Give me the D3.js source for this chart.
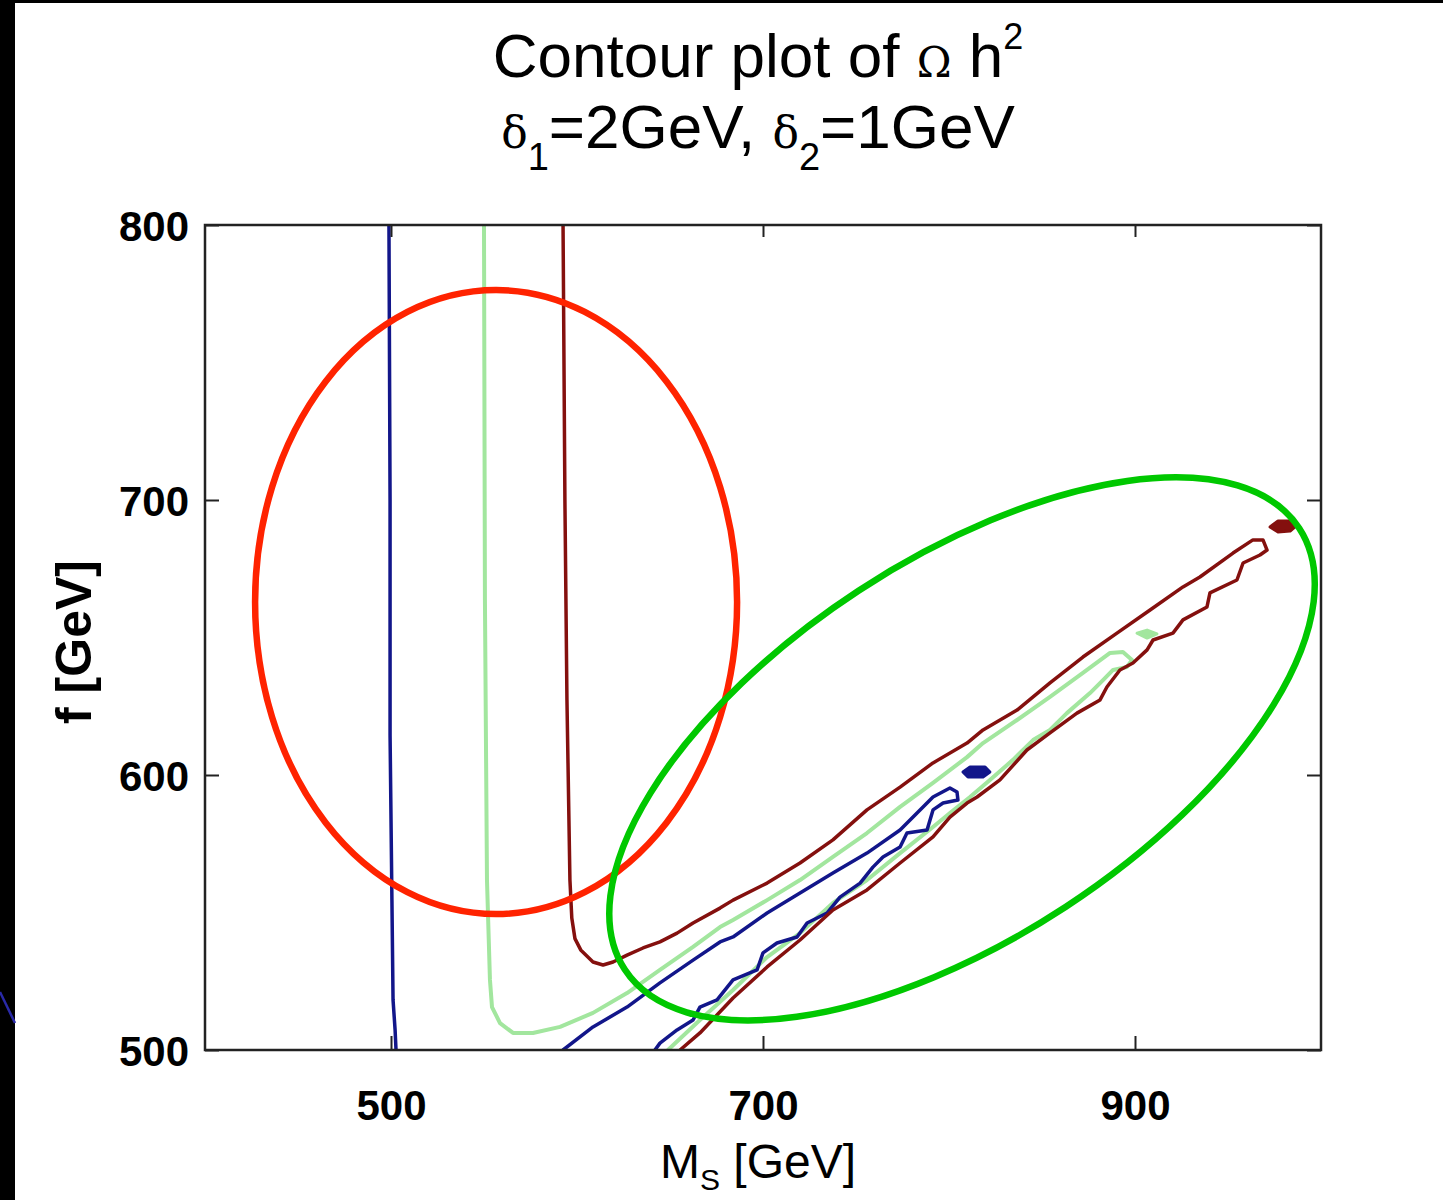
<!DOCTYPE html>
<html>
<head>
<meta charset="utf-8">
<script src="https://cdn.jsdelivr.net/npm/d3@7/dist/d3.min.js"></script>
<style>
  html, body { margin: 0; padding: 0; background: #fff; }
  svg { display: block; }
</style>
</head>
<body>
<svg id="chart" width="1443" height="1200"></svg>
<script>
// Axis ranges and tick labels
const msDomain = [400, 1000];
const fDomain = [500, 800];
const msTicks = [500, 700, 900];
const fTicks = [500, 600, 700, 800];

// Contour lines of Omega h^2, points as [M_S (GeV), f (GeV)]
const blueVertical = [
  [498.9, 800], [499.5, 700], [499.5, 614.5], [500.5, 554.5],
  [501.1, 518.2], [502.2, 507.3], [502.7, 500]
];
const blueBand = [
  [592.5, 500], [608.6, 508.4], [626.9, 515.6], [644.6, 524.4], [662.4, 532.7],
  [676.9, 539.3], [683.9, 541.1], [702.2, 549.8], [719.9, 557.1], [737.6, 564.4],
  [755.9, 571.6], [773.7, 580.0], [791.4, 592.0], [800.5, 595.3], [804.3, 593.8],
  [804.8, 590.9], [796.8, 589.8], [791.4, 587.3], [788.2, 580.0], [777.4, 578.9],
  [773.7, 573.8], [764.5, 570.2], [759.1, 566.5], [752.2, 560.7], [741.4, 555.6],
  [734.4, 549.8], [723.7, 546.2], [718.3, 541.1], [707.5, 538.9], [700.0, 535.3],
  [696.8, 529.1], [683.9, 525.5], [675.3, 518.2], [666.1, 515.6], [662.4, 510.9],
  [653.8, 507.3], [644.6, 502.5], [641.9, 500]
];
const blueIsland = [
  [807.5, 601.1], [811.3, 602.9], [819.4, 602.9], [822.0, 601.1],
  [818.3, 599.3], [810.2, 599.3]
];
const greenCurve = [
  [550.0, 800], [550.5, 663.6], [551.6, 561.8], [553.2, 525.5], [554.3, 515.6],
  [558.6, 509.8], [565.6, 506.2], [576.3, 506.2], [590.9, 508.4], [608.6, 513.5],
  [626.9, 520.7], [644.6, 529.1], [662.4, 537.5], [676.9, 544.7], [683.9, 547.3],
  [702.2, 554.5], [719.9, 561.8], [737.6, 570.2], [755.9, 578.9], [773.7, 588.4],
  [791.4, 597.1], [809.7, 606.5], [818.3, 611.6], [836.6, 620.0], [854.3, 628.4],
  [872.0, 637.1], [886.6, 644.4], [893.5, 644.7], [898.4, 641.8], [895.7, 639.3],
  [888.2, 638.2], [882.8, 634.5], [875.8, 629.8], [863.4, 622.5], [854.3, 616.4],
  [845.2, 612.7], [834.4, 605.5], [822.0, 598.2], [811.3, 592.0], [800.5, 586.2],
  [791.4, 581.1], [773.7, 571.6], [755.9, 561.8], [737.6, 553.5], [719.9, 542.5],
  [702.2, 533.8], [683.9, 521.8], [666.1, 510.9], [648.9, 500]
];
const greenIsland = [
  [901.1, 651.6], [906.5, 652.7], [911.8, 651.3], [906.5, 649.8]
];
const redCurve = [
  [592.5, 800], [593.5, 700], [594.6, 627.3], [596.2, 561.8], [597.2, 548.0],
  [598.9, 540.5], [602.0, 536.4], [608.6, 532.0], [614.0, 530.9], [619.4, 532.0],
  [626.9, 534.5], [635.5, 537.1], [644.6, 539.3], [653.8, 542.5], [662.4, 546.2],
  [676.9, 551.6], [683.9, 554.5], [702.2, 560.7], [719.9, 568.0], [737.6, 576.4],
  [755.9, 587.3], [773.7, 595.6], [791.4, 604.4], [809.7, 611.6], [818.3, 616.4],
  [836.6, 623.6], [854.3, 633.5], [872.0, 642.9], [890.3, 651.6], [908.1, 660.0],
  [925.8, 668.4], [934.9, 672.0], [952.7, 680.7], [963.4, 685.5], [968.8, 685.5],
  [971.0, 681.8], [967.2, 680.0], [958.1, 677.1], [954.8, 670.9], [940.3, 666.2],
  [938.7, 661.1], [925.8, 656.4], [920.4, 651.6], [909.7, 649.1], [906.5, 645.5],
  [898.9, 640.7], [891.9, 638.2], [884.9, 632.0], [881.2, 627.3], [868.8, 622.5],
  [854.3, 615.3], [841.9, 609.1], [827.4, 598.2], [815.1, 592.0], [809.7, 589.8],
  [800.5, 584.7], [791.4, 577.5], [773.7, 568.0], [755.9, 558.2], [737.6, 550.9],
  [719.9, 540.0], [702.2, 530.2], [683.9, 518.9], [666.1, 506.2], [655.4, 500]
];
const redIsland = [
  [972.6, 690.2], [976.9, 692.4], [983.4, 692.4], [987.1, 690.9],
  [983.4, 688.7], [976.9, 688.4]
];

const svg = d3.select("#chart");
const W = 1443, H = 1200;

// Slide background: dark frame on the left and top edge
svg.append("rect").attr("width", W).attr("height", H).attr("fill", "#fff");
svg.append("rect").attr("x", 0).attr("y", 0).attr("width", 15).attr("height", H).attr("fill", "#000");
svg.append("rect").attr("x", 0).attr("y", 0).attr("width", W).attr("height", 3).attr("fill", "#000");
svg.append("line").attr("x1", 0).attr("y1", 992).attr("x2", 15).attr("y2", 1023)
  .attr("stroke", "#2a2aa8").attr("stroke-width", 2.5);

const plot = { left: 205, right: 1321, top: 225, bottom: 1050 };
const x = d3.scaleLinear().domain(msDomain).range([plot.left, plot.right]);
const y = d3.scaleLinear().domain(fDomain).range([plot.bottom, plot.top]);

// Title
const title = svg.append("g")
  .attr("font-family", "'Liberation Sans', Arial, Helvetica, sans-serif")
  .attr("fill", "#000");
const t1 = title.append("text").attr("x", 758).attr("y", 77)
  .attr("text-anchor", "middle").attr("font-size", 62);
t1.append("tspan").text("Contour plot of ");
t1.append("tspan").attr("font-size", 42).attr("font-family", "'DejaVu Serif', serif").text("Ω");
t1.append("tspan").text(" h");
t1.append("tspan").attr("font-size", 36).attr("dy", -28).text("2");

const t2 = title.append("text").attr("x", 758).attr("y", 148)
  .attr("text-anchor", "middle").attr("font-size", 62);
t2.append("tspan").attr("font-size", 44).attr("font-family", "'DejaVu Serif', serif").text("δ");
t2.append("tspan").attr("font-size", 38).attr("dy", 22).text("1");
t2.append("tspan").attr("dy", -22).text("=2GeV, ");
t2.append("tspan").attr("font-size", 44).attr("font-family", "'DejaVu Serif', serif").text("δ");
t2.append("tspan").attr("font-size", 38).attr("dy", 22).text("2");
t2.append("tspan").attr("dy", -22).text("=1GeV");

// Contours, clipped to the plotting box
svg.append("defs").append("clipPath").attr("id", "plotClip")
  .append("rect").attr("x", plot.left).attr("y", plot.top)
  .attr("width", plot.right - plot.left).attr("height", plot.bottom - plot.top);

const line = d3.line().x(d => x(d[0])).y(d => y(d[1]));
const lineClosed = d3.line().x(d => x(d[0])).y(d => y(d[1])).curve(d3.curveLinearClosed);

const contours = svg.append("g").attr("clip-path", "url(#plotClip)")
  .attr("fill", "none").attr("stroke-linejoin", "round").attr("stroke-linecap", "round");

const colBlue = "#12168a", colGreen = "#a2e69e", colRed = "#84100e";

contours.append("path").datum(greenCurve).attr("d", line)
  .attr("stroke", colGreen).attr("stroke-width", 4);
contours.append("path").datum(greenIsland).attr("d", lineClosed)
  .attr("stroke", colGreen).attr("stroke-width", 3).attr("fill", colGreen);
contours.append("path").datum(blueVertical).attr("d", line)
  .attr("stroke", colBlue).attr("stroke-width", 3.5);
contours.append("path").datum(blueBand).attr("d", line)
  .attr("stroke", colBlue).attr("stroke-width", 3.5);
contours.append("path").datum(blueIsland).attr("d", lineClosed)
  .attr("stroke", colBlue).attr("stroke-width", 3).attr("fill", colBlue);
contours.append("path").datum(redCurve).attr("d", line)
  .attr("stroke", colRed).attr("stroke-width", 3.5);
contours.append("path").datum(redIsland).attr("d", lineClosed)
  .attr("stroke", colRed).attr("stroke-width", 3).attr("fill", colRed);

// Axes box with inward ticks on all four sides
const axisFont = "'Liberation Sans', Arial, Helvetica, sans-serif";
const gx = svg.append("g").attr("transform", `translate(0,${plot.bottom})`)
  .call(d3.axisBottom(x).tickValues(msTicks).tickSizeInner(-14).tickSizeOuter(0).tickPadding(40).tickFormat(d3.format("d")));
const gy = svg.append("g").attr("transform", `translate(${plot.left},0)`)
  .call(d3.axisLeft(y).tickValues(fTicks).tickSizeInner(-14).tickSizeOuter(0).tickPadding(16).tickFormat(d3.format("d")));
const gxt = svg.append("g").attr("transform", `translate(0,${plot.top})`)
  .call(d3.axisTop(x).tickValues(msTicks).tickSizeInner(-12).tickSizeOuter(0).tickFormat(""));
const gyr = svg.append("g").attr("transform", `translate(${plot.right},0)`)
  .call(d3.axisRight(y).tickValues(fTicks).tickSizeInner(-14).tickSizeOuter(0).tickFormat(""));

[gx, gy, gxt, gyr].forEach(g => {
  g.select(".domain").remove();
  g.selectAll(".tick line").attr("stroke", "#222").attr("stroke-width", 2);
  g.selectAll(".tick text").attr("font-family", axisFont).attr("font-size", 42)
    .attr("font-weight", "bold").attr("fill", "#000");
});
gy.selectAll(".tick text").attr("dy", "0.38em");

svg.append("rect").attr("x", plot.left).attr("y", plot.top)
  .attr("width", plot.right - plot.left).attr("height", plot.bottom - plot.top)
  .attr("fill", "none").attr("stroke", "#222").attr("stroke-width", 2.5);

// Axis titles
const xl = svg.append("text").attr("x", 758).attr("y", 1178).attr("text-anchor", "middle")
  .attr("font-family", axisFont).attr("font-size", 48).attr("fill", "#000");
xl.append("tspan").text("M");
xl.append("tspan").attr("font-size", 30).attr("dy", 12).text("S");
xl.append("tspan").attr("dy", -12).text(" [GeV]");

svg.append("text").attr("transform", "translate(91,642) rotate(-90)").attr("text-anchor", "middle")
  .attr("font-family", axisFont).attr("font-size", 50).attr("font-weight", "bold").attr("fill", "#000")
  .text("f [GeV]");

// Highlight rings drawn over the contours
const ringA = { ms: 556.5, f: 662.9, rx: 241, ry: 312 };
const ringB = { ms: 807, f: 609.5, rx: 403, ry: 189, angle: -33.2 };

svg.append("ellipse").attr("cx", x(ringA.ms)).attr("cy", y(ringA.f))
  .attr("rx", ringA.rx).attr("ry", ringA.ry)
  .attr("fill", "none").attr("stroke", "#ff2300").attr("stroke-width", 6.5);

svg.append("ellipse")
  .attr("transform", `translate(${x(ringB.ms)},${y(ringB.f)}) rotate(${ringB.angle})`)
  .attr("rx", ringB.rx).attr("ry", ringB.ry)
  .attr("fill", "none").attr("stroke", "#00c800").attr("stroke-width", 6.5);
</script>
</body>
</html>
